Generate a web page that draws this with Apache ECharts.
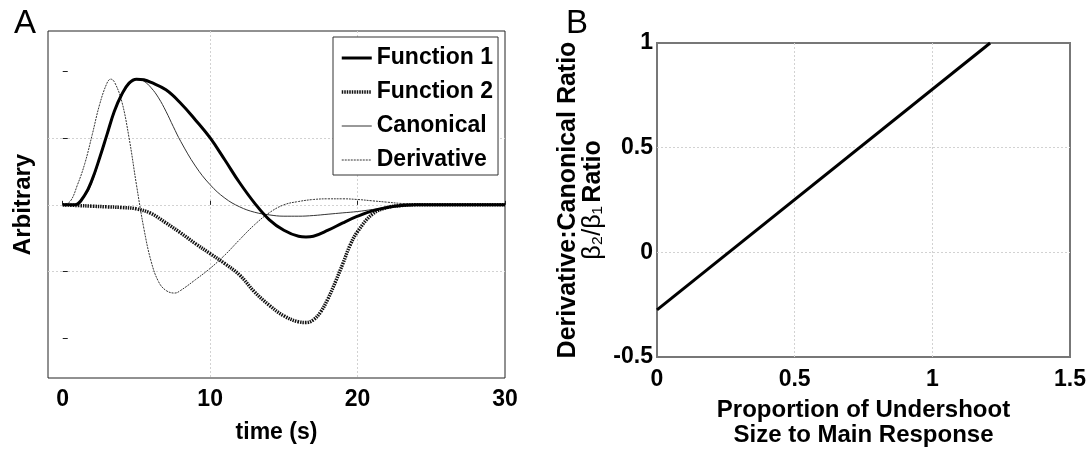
<!DOCTYPE html>
<html>
<head>
<meta charset="utf-8">
<script src="https://cdn.jsdelivr.net/npm/echarts@6/dist/echarts.min.js"></script>
<style>
  html, body { margin: 0; padding: 0; background: #fff; }
  #chart { width: 1089px; height: 455px; }
</style>
</head>
<body>
<div id="chart"></div>
<script>
// Panel A: response functions, [time (s), value]
const func1 = [[0,0],[0.8,0],[1.5,0.15],[2,0.38],[2.5,0.7],[3,1.05],[3.5,1.4],[4,1.65],[4.5,1.82],[5,1.88],[5.5,1.87],[6,1.83],[7,1.72],[8,1.52],[9,1.27],[10,1.0],[11,0.67],[12,0.33],[13,0.03],[14,-0.22],[15,-0.38],[16,-0.47],[16.5,-0.48],[17,-0.47],[18,-0.38],[19,-0.27],[20,-0.17],[21,-0.09],[22,-0.04],[23,-0.01],[24,0],[30,0]];
const func2 = [[0,0],[1,-0.01],[2,-0.02],[3,-0.03],[4,-0.04],[5,-0.06],[6,-0.13],[7,-0.27],[8,-0.42],[9,-0.58],[10,-0.73],[11,-0.88],[12,-1.05],[13,-1.3],[14,-1.5],[15,-1.66],[16,-1.75],[16.5,-1.76],[17,-1.72],[17.5,-1.6],[18,-1.4],[18.5,-1.15],[19,-0.88],[19.5,-0.6],[20,-0.4],[21,-0.14],[22,-0.04],[23,-0.01],[24,0],[30,0]];
const canonical = [[0,0],[0.8,0],[1.5,0.13],[2,0.35],[2.5,0.68],[3,1.03],[3.5,1.38],[4,1.63],[4.5,1.8],[5,1.88],[5.5,1.85],[6,1.75],[6.5,1.6],[7,1.4],[7.5,1.17],[8,0.95],[9,0.58],[10,0.3],[11,0.1],[12,-0.03],[13,-0.11],[14,-0.15],[15,-0.17],[16,-0.17],[17,-0.16],[18,-0.14],[19,-0.12],[20,-0.1],[21,-0.07],[22,-0.04],[23,-0.01],[24,0],[30,0]];
const derivative = [[0,0],[0.5,0.05],[1,0.3],[1.5,0.62],[2,1.05],[2.5,1.5],[3,1.82],[3.25,1.88],[3.5,1.84],[4,1.55],[4.5,1.0],[5,0.3],[5.5,-0.35],[6,-0.85],[6.5,-1.15],[7,-1.28],[7.6,-1.32],[8,-1.28],[9,-1.12],[10,-0.95],[11,-0.75],[12,-0.52],[13,-0.3],[14,-0.12],[15,0],[16,0.05],[17,0.08],[18,0.09],[19,0.09],[20,0.08],[21,0.06],[22,0.04],[23,0.02],[24,0.01],[26,0],[30,0]];
const timeTicks = [0, 10, 20, 30];
const arbTicks = [-2, -1, 0, 1, 2];

// Panel B: ratio line
const ratioLine = [[0, -0.275], [1.21, 1.0]];

const font = 'Liberation Sans, Arial, Helvetica, sans-serif';
const gridLine = { show: true, showMinLine: false, showMaxLine: false, lineStyle: { color: '#d2d2d2', type: [2, 2], width: 1 } };

// line styles shared by series and legend
const styleF1 = { color: '#000', width: 3, type: 'solid' };
const styleF2 = { color: '#111', width: 3.5, type: [1.5, 1] };
const styleCan = { color: '#333', width: 1, type: 'solid' };
const styleDer = { color: '#333', width: 1, type: [2, 1] };

const chart = echarts.init(document.getElementById('chart'));
const option = {
  animation: false,
  color: ['#000', '#111', '#333', '#333', '#000'],
  textStyle: { fontFamily: font },
  title: [
    { text: 'A', left: 9, top: 2, textStyle: { fontSize: 33, fontWeight: 'normal', color: '#000' } },
    { text: 'B', left: 561, top: 2, textStyle: { fontSize: 33, fontWeight: 'normal', color: '#000' } }
  ],
  legend: {
    data: [
      { name: 'Function 1', lineStyle: styleF1 },
      { name: 'Function 2', lineStyle: styleF2 },
      { name: 'Canonical', lineStyle: styleCan },
      { name: 'Derivative', lineStyle: styleDer }
    ],
    orient: 'vertical',
    left: 333, top: 37,
    padding: [9, 5, 3, 7],
    itemWidth: 30, itemHeight: 14, itemGap: 10,
    borderColor: '#333', borderWidth: 1,
    backgroundColor: '#fff',
    itemStyle: { opacity: 0 },
    textStyle: { fontSize: 23, fontWeight: 'bold', color: '#000', fontFamily: font, lineHeight: 24 }
  },
  grid: [
    { left: 48, top: 31, right: 584, bottom: 77, show: true, borderColor: '#222', borderWidth: 1 },
    { left: 657, top: 43, right: 19, bottom: 98, show: true, borderColor: '#777', borderWidth: 2 }
  ],
  xAxis: [
    {
      gridIndex: 0, type: 'value', min: -1, max: 30,
      name: 'time (s)', nameLocation: 'middle', nameGap: 43,
      nameTextStyle: { fontSize: 23, fontWeight: 'bold', color: '#000' },
      axisLine: { show: false },
      axisTick: { inside: true, length: 4, customValues: timeTicks, lineStyle: { color: '#222' } },
      axisLabel: { customValues: timeTicks, fontSize: 23, fontWeight: 'bold', color: '#000', margin: 10 },
      splitLine: gridLine
    },
    {
      gridIndex: 1, type: 'value', min: 0, max: 1.5, interval: 0.5,
      name: 'Proportion of Undershoot\nSize to Main Response', nameLocation: 'middle', nameGap: 41,
      nameTextStyle: { fontSize: 24, fontWeight: 'bold', color: '#000', lineHeight: 25, verticalAlign: 'top' },
      axisLine: { show: false },
      axisTick: { show: false },
      axisLabel: { fontSize: 23, fontWeight: 'bold', color: '#000', margin: 11 },
      splitLine: gridLine
    }
  ],
  yAxis: [
    {
      gridIndex: 0, type: 'value', min: -2.59, max: 2.6,
      name: 'Arbitrary', nameLocation: 'middle', nameGap: 13, nameRotate: 90,
      nameTextStyle: { fontSize: 24, fontWeight: 'bold', color: '#000' },
      axisLine: { show: false },
      axisTick: { inside: true, length: 5, customValues: arbTicks, lineStyle: { color: '#222' } },
      axisLabel: { show: false },
      splitLine: gridLine
    },
    {
      gridIndex: 1, type: 'value', min: -0.5, max: 1, interval: 0.5,
      name: '{a|Derivative:Canonical Ratio}\n{b|β₂/β₁} {a|Ratio}', nameLocation: 'middle', nameGap: 51, nameRotate: 90,
      nameTextStyle: {
        color: '#000', lineHeight: 25,
        rich: {
          a: { fontSize: 25, fontWeight: 'bold', color: '#000', fontFamily: font, lineHeight: 25 },
          b: { fontSize: 25, fontWeight: 'normal', color: '#000', fontFamily: font, lineHeight: 25 }
        }
      },
      axisLine: { show: false },
      axisTick: { show: false },
      axisLabel: { fontSize: 23, fontWeight: 'bold', color: '#000', margin: 4 },
      splitLine: gridLine
    }
  ],
  series: [
    {
      name: 'Function 1', type: 'line', xAxisIndex: 0, yAxisIndex: 0,
      data: func1, symbol: 'none', smooth: 0.4, z: 5,
      lineStyle: styleF1
    },
    {
      name: 'Function 2', type: 'line', xAxisIndex: 0, yAxisIndex: 0,
      data: func2, symbol: 'none', smooth: 0.4, z: 4,
      lineStyle: styleF2
    },
    {
      name: 'Canonical', type: 'line', xAxisIndex: 0, yAxisIndex: 0,
      data: canonical, symbol: 'none', smooth: 0.4, z: 3,
      lineStyle: styleCan
    },
    {
      name: 'Derivative', type: 'line', xAxisIndex: 0, yAxisIndex: 0,
      data: derivative, symbol: 'none', smooth: 0.4, z: 3,
      lineStyle: styleDer
    },
    {
      name: 'Ratio', type: 'line', xAxisIndex: 1, yAxisIndex: 1,
      data: ratioLine, symbol: 'none',
      lineStyle: { color: '#000', width: 3 }
    }
  ]
};
chart.setOption(option);
</script>
</body>
</html>
